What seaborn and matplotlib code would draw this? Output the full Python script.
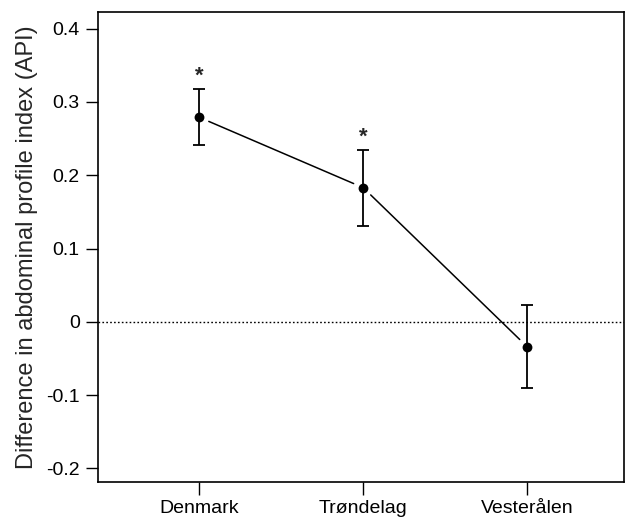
import pandas as pd
import matplotlib
matplotlib.use("Agg")
import matplotlib.pyplot as plt
import seaborn as sns

# Data
regions = ["Denmark", "Trøndelag", "Vesterålen"]
api_diff = [0.279, 0.183, -0.034]
ci_low = [0.241, 0.131, -0.090]
ci_high = [0.318, 0.235, 0.023]
significant = [True, True, False]

df = pd.DataFrame({"region": regions, "pos": range(len(regions)), "diff": api_diff,
                   "low": ci_low, "high": ci_high})

sns.set_style("ticks")
plt.rcParams["font.family"] = ["Liberation Sans", "DejaVu Sans"]

fig = plt.figure(figsize=(6.25, 5.23), dpi=100)
ax = fig.add_axes([0.1563, 0.079, 0.8421, 0.8986])

# zero reference line
ax.axhline(0, color="black", ls=(0, (1.2, 1.6)), lw=1, zorder=1)

# error bars
ax.errorbar(df["pos"], df["diff"],
            yerr=[df["diff"] - df["low"], df["high"] - df["diff"]],
            fmt="none", ecolor="black", elinewidth=1.3, capsize=4, capthick=1.3, zorder=2)

# connecting lines with a gap around each point
for i in range(len(df) - 1):
    ax.annotate("", xy=(df["pos"][i + 1], df["diff"][i + 1]), xytext=(df["pos"][i], df["diff"][i]),
                arrowprops=dict(arrowstyle="-", color="black", lw=1.1, shrinkA=7.5, shrinkB=7.5))

sns.scatterplot(data=df, x="pos", y="diff", ax=ax, color="black", s=50, marker="o",
                edgecolor="black", linewidth=0, zorder=3, legend=False)

# significance stars
for i, sig in enumerate(significant):
    if sig:
        ax.text(df["pos"][i], df["high"][i] + 0.003, "*", ha="center", va="bottom",
                fontsize=16, fontweight="bold")

ax.set_xlim(-0.619, 2.59)
ax.set_ylim(-0.218, 0.423)
ax.set_xticks(df["pos"])
ax.set_xticklabels(regions)
ax.set_yticks([-0.2, -0.1, 0, 0.1, 0.2, 0.3, 0.4])
ax.set_yticklabels(["-0.2", "-0.1", "0", "0.1", "0.2", "0.3", "0.4"])
ax.set_xlabel("")
ax.set_ylabel("Difference in abdominal profile index (API)", fontsize=17, labelpad=6)
ax.tick_params(axis="both", direction="out", length=9, width=1, color="black",
               labelsize=14, labelcolor="black", pad=4)

for sp in ax.spines.values():
    sp.set_visible(True)
    sp.set_color("black")
    sp.set_linewidth(1.2)

fig.savefig("out.png", dpi=100)
